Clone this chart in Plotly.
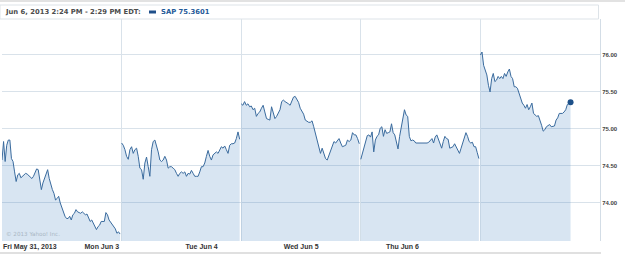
import plotly.graph_objects as go
import numpy as np

# ---------------- data ----------------
day_labels = ["Fri May 31, 2013", "Mon Jun 3", "Tue Jun 4", "Wed Jun 5", "Thu Jun 6"]
# label positions (in day units) where Yahoo placed the day captions
label_pos = [0.008, 0.69, 1.535, 2.355, 3.21]

y_ticks = [74.0, 74.5, 75.0, 75.5, 76.0]
y_tick_text = ["74.00", "74.50", "75.00", "75.50", "76.00"]

session_open = "09:30"
last_bar_full = "15:55"
last_bar_thu = "14:24"

fri = [74.58, 74.83, 74.56, 74.78, 74.85, 74.85, 74.60, 74.56, 74.42, 74.29,
       74.38, 74.40, 74.34, 74.36, 74.38, 74.40, 74.39, 74.37, 74.34, 74.33,
       74.36, 74.42, 74.46, 74.45, 74.33, 74.18, 74.27, 74.33, 74.42, 74.45,
       74.33, 74.24, 74.18, 74.13, 74.04, 74.06, 74.09, 74.00, 73.93, 73.86,
       73.82, 73.79, 73.79, 73.82, 73.77, 73.84, 73.86, 73.91, 73.88, 73.87,
       73.86, 73.88, 73.86, 73.84, 73.85, 73.79, 73.75, 73.77, 73.72, 73.68,
       73.64, 73.68, 73.70, 73.75, 73.75, 73.75, 73.87, 73.84, 73.77, 73.74,
       73.70, 73.68, 73.65, 73.59, 73.61, 73.58]
mon = [74.81, 74.78, 74.72, 74.63, 74.59, 74.72, 74.76, 74.67, 74.72, 74.74,
       74.63, 74.47, 74.45, 74.32, 74.54, 74.62, 74.49, 74.36, 74.72, 74.83,
       74.85, 74.78, 74.69, 74.58, 74.56, 74.58, 74.63, 74.58, 74.47, 74.49,
       74.49, 74.47, 74.45, 74.40, 74.36, 74.40, 74.42, 74.40, 74.42, 74.36,
       74.40, 74.39, 74.44, 74.40, 74.36, 74.36, 74.36, 74.42, 74.49, 74.49,
       74.54, 74.63, 74.71, 74.63, 74.58, 74.65, 74.67, 74.69, 74.67, 74.72,
       74.76, 74.74, 74.77, 74.72, 74.67, 74.78, 74.80, 74.80, 74.81, 74.87,
       74.96, 74.86]
tue = [75.34, 75.32, 75.37, 75.32, 75.34, 75.30, 75.31, 75.26, 75.28, 75.17,
       75.21, 75.23, 75.28, 75.32, 75.23, 75.14, 75.13, 75.12, 75.30, 75.21,
       75.14, 75.17, 75.21, 75.26, 75.37, 75.39, 75.37, 75.36, 75.34, 75.32,
       75.39, 75.43, 75.44, 75.40, 75.36, 75.28, 75.23, 75.20, 75.12, 75.10,
       75.09, 75.09, 75.11, 75.03, 74.94, 74.81, 74.76, 74.67, 74.74, 74.65,
       74.60, 74.58, 74.65, 74.72, 74.76, 74.83, 74.81, 74.85, 74.87, 74.81,
       74.76, 74.77, 74.78, 74.85, 74.83, 74.85, 74.95, 74.92, 74.92, 74.87,
       74.80]
wed = [74.59, 74.67, 74.76, 74.85, 74.91, 74.92, 74.89, 74.96, 74.69, 74.85,
       74.90, 74.92, 75.01, 75.03, 74.90, 74.99, 74.94, 74.95, 74.96, 75.07,
       74.95, 74.92, 74.81, 74.73, 74.90, 75.03, 75.17, 75.26, 75.19, 75.17,
       74.90, 74.84, 74.85, 74.84, 74.81, 74.81, 74.81, 74.80, 74.80, 74.81,
       74.80, 74.81, 74.82, 74.84, 74.87, 74.81, 74.89, 74.92, 74.85, 74.78,
       74.74, 74.83, 74.90, 74.87, 74.86, 74.74, 74.75, 74.76, 74.80, 74.76,
       74.72, 74.67, 74.74, 74.81, 74.90, 74.95, 74.90, 74.83, 74.81, 74.82,
       74.76, 74.76, 74.68, 74.60]
thu = [76.00, 76.04, 75.86, 75.80, 75.73, 75.59, 75.50, 75.68, 75.75, 75.64,
       75.66, 75.71, 75.68, 75.71, 75.68, 75.75, 75.71, 75.77, 75.81, 75.71,
       75.68, 75.57, 75.57, 75.55, 75.48, 75.41, 75.35, 75.32, 75.28, 75.33,
       75.26, 75.30, 75.35, 75.21, 75.19, 75.17, 75.18, 75.12, 75.05, 74.97,
       74.99, 75.03, 75.05, 75.06, 75.03, 75.03, 75.04, 75.12, 75.15, 75.21,
       75.21, 75.21, 75.23, 75.26, 75.33, 75.35, 75.3601]

days = [fri, mon, tue, wed, thu]
last_bars = [last_bar_full] * 4 + [last_bar_thu]


def minutes(s):
    h, m = s.split(":")
    return int(h) * 60 + int(m)


SESSION = 390.0  # 6.5 trading hours

LINE = "#3a6b9e"
FILL = "rgba(60,125,190,0.2)"
GRID = "#d9e2ea"

fig = go.Figure()
for d, (vals, last) in enumerate(zip(days, last_bars)):
    span = (minutes(last) - minutes(session_open)) / SESSION
    xs = d + np.linspace(0.0, span, len(vals))
    fig.add_trace(go.Scatter(
        x=xs, y=vals, mode="lines",
        line=dict(color=LINE, width=1),
        fill="tozeroy", fillcolor=FILL,
        hoverinfo="skip", showlegend=False,
    ))
    if d == len(days) - 1:
        fig.add_trace(go.Scatter(
            x=[xs[-1]], y=[vals[-1]], mode="markers",
            marker=dict(color="#1d5089", size=6),
            hoverinfo="skip", showlegend=False,
        ))

fig.update_layout(
    width=625, height=258,
    margin=dict(l=2, r=25, t=19, b=17),
    paper_bgcolor="white", plot_bgcolor="white",
    xaxis=dict(
        range=[0, 5], fixedrange=True,
        tickmode="array", tickvals=label_pos, ticktext=day_labels,
        ticklabelposition="outside right",
        ticks="", showgrid=False, zeroline=False, showline=False,
        tickfont=dict(family="Liberation Sans", size=7, color="#333333", weight="bold"),
        minor=dict(tickmode="array", tickvals=[1, 2, 3, 4], showgrid=True,
                   gridcolor=GRID, gridwidth=1, ticks=""),
    ),
    yaxis=dict(
        range=[73.486, 76.486], side="right", fixedrange=True,
        tickmode="array", tickvals=y_ticks, ticktext=y_tick_text,
        showgrid=True, gridcolor=GRID, gridwidth=1,
        zeroline=False, showline=True, linecolor="#d3dde6", linewidth=1,
        ticks="", ticklen=0,
        tickfont=dict(family="Liberation Sans", size=6, color="#444444", weight="bold"),
    ),
)

# plot-area px helpers (plot area: x 2..600, y 19..241)
def px_x(p):
    return (p - 2) / 598.0


def px_y(p):
    return (241 - p) / 222.0


shapes = [
    dict(type="rect", xref="paper", yref="paper", x0=px_x(0), x1=px_x(625),
         y0=px_y(2), y1=px_y(0), fillcolor="#e2e2e2", line=dict(width=0), layer="below"),
    dict(type="rect", xref="paper", yref="paper", x0=px_x(0), x1=px_x(598.5),
         y0=px_y(19), y1=px_y(5), fillcolor="rgba(0,0,0,0)", line=dict(color="#dde3e8", width=1)),
    dict(type="line", xref="paper", yref="paper", x0=px_x(0), x1=px_x(601),
         y0=px_y(253), y1=px_y(253), line=dict(color="#e0e0e0", width=2)),
    dict(type="rect", xref="paper", yref="paper", x0=px_x(149), x1=px_x(156),
         y0=px_y(13.5), y1=px_y(10.5), fillcolor="#1f4f8a", line=dict(width=0)),
]
fig.update_layout(shapes=shapes)

fig.add_annotation(xref="paper", yref="paper", x=px_x(3), y=px_y(12),
                   xanchor="left", yanchor="middle", showarrow=False,
                   text="Jun 6, 2013 2:24 PM - 2:29 PM EDT:",
                   font=dict(family="DejaVu Sans", size=6.8, color="#4d4d4d", weight="bold"))
fig.add_annotation(xref="paper", yref="paper", x=px_x(159), y=px_y(12),
                   xanchor="left", yanchor="middle", showarrow=False,
                   text="SAP 75.3601",
                   font=dict(family="DejaVu Sans", size=6.8, color="#1f5a99", weight="bold"))
fig.add_annotation(xref="paper", yref="paper", x=px_x(4), y=px_y(234),
                   xanchor="left", yanchor="middle", showarrow=False,
                   text="© 2013 Yahoo! Inc.",
                   font=dict(family="DejaVu Sans", size=5.6, color="#a9b7c4"))

fig.write_html("out.html")
